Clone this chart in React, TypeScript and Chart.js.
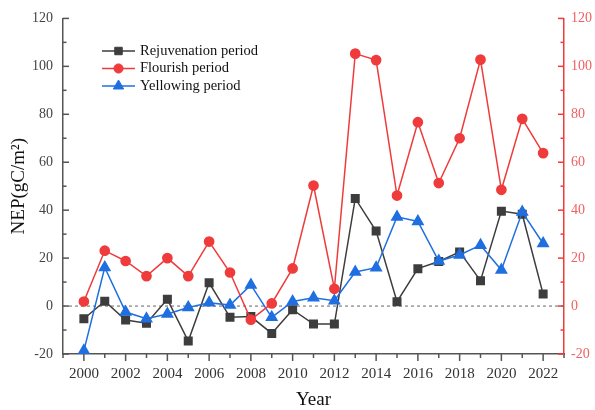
import React, { useEffect, useRef } from 'react';
import { Chart, registerables } from 'chart.js';
import { drawPoint } from 'chart.js/helpers';

Chart.register(...registerables);

const years = [2000, 2001, 2002, 2003, 2004, 2005, 2006, 2007, 2008, 2009, 2010, 2011, 2012, 2013, 2014, 2015, 2016, 2017, 2018, 2019, 2020, 2021, 2022];
const rejuvenation = [-5.3, 2.0, -5.8, -7.2, 2.8, -14.6, 9.7, -4.7, -4.4, -11.4, -1.5, -7.5, -7.5, 44.9, 31.3, 1.8, 15.6, 18.6, 22.6, 10.6, 39.6, 38.3, 5.0];
const flourish = [1.9, 23.1, 18.8, 12.5, 20.0, 12.5, 26.9, 14.0, -5.7, 1.1, 15.7, 50.3, 7.2, 105.3, 102.6, 46.1, 76.7, 51.3, 70.0, 102.8, 48.5, 78.1, 63.8];
const yellowing = [-18.6, 16.1, -2.5, -5.3, -3.3, -0.6, 1.4, 0.4, 8.8, -4.7, 1.9, 3.5, 2.2, 14.2, 16.0, 37.2, 35.3, 18.8, 21.3, 25.4, 15.0, 39.2, 26.1];
const seriesNames = ['Rejuvenation period', 'Flourish period', 'Yellowing period'];

const X_MIN = 1999;
const X_MAX = 2023;
const Y_MIN = -20;
const Y_MAX = 120;

const GREY = '#555555';
const BLACK = '#3d3d3d';
const RED = '#ef3b3b';
const BLUE = '#1f6fe0';
const SERIF = "'Liberation Serif', 'Times New Roman', serif";

const toPoints = (vals: number[]) => vals.map((v, i) => ({ x: years[i], y: v }));

const axisTicks = {
  id: 'axisTicks',
  beforeDatasetsDraw(chart: any) {
    const { ctx, chartArea, scales } = chart;
    const { left, right, bottom } = chartArea;
    ctx.save();
    ctx.lineWidth = 1.5;
    ctx.strokeStyle = GREY;
    for (let v = X_MIN; v <= X_MAX; v++) {
      const px = scales.x.getPixelForValue(v);
      const len = v % 2 === 0 ? 7 : 4;
      ctx.beginPath();
      ctx.moveTo(px, bottom);
      ctx.lineTo(px, bottom + len);
      ctx.stroke();
    }
    for (let v = Y_MIN; v <= Y_MAX; v += 10) {
      const py = scales.y.getPixelForValue(v);
      const len = v % 20 === 0 ? 6 : 3.5;
      ctx.strokeStyle = GREY;
      ctx.beginPath();
      ctx.moveTo(left, py);
      ctx.lineTo(left + len, py);
      ctx.stroke();
      const py1 = scales.y1.getPixelForValue(v);
      ctx.strokeStyle = RED;
      ctx.beginPath();
      ctx.moveTo(right, py1);
      ctx.lineTo(right - len, py1);
      ctx.stroke();
    }
    ctx.restore();
  },
};

const customLegend = {
  id: 'customLegend',
  afterDraw(chart: any) {
    const { ctx } = chart;
    const rows = [51, 68.5, 86];
    ctx.save();
    for (let i = 0; i < 3; i++) {
      const ds = chart.data.datasets[i];
      const y = rows[i];
      ctx.strokeStyle = ds.borderColor;
      ctx.lineWidth = 1.5;
      ctx.beginPath();
      ctx.moveTo(102, y);
      ctx.lineTo(135, y);
      ctx.stroke();
      ctx.fillStyle = ds.pointBackgroundColor;
      ctx.strokeStyle = ds.pointBorderColor;
      ctx.lineWidth = 1;
      drawPoint(ctx, { pointStyle: ds.pointStyle, radius: ds.pointRadius, borderWidth: 1, rotation: 0 }, 118.5, y);
      ctx.fillStyle = '#111';
      ctx.font = `14.5px ${SERIF}`;
      ctx.textBaseline = 'middle';
      ctx.textAlign = 'left';
      ctx.fillText(ds.label, 140, y);
    }
    ctx.restore();
  },
};

export default function App() {
  const ref = useRef<HTMLCanvasElement | null>(null);
  useEffect(() => {
    document.body.style.margin = '0';
    if (!ref.current) return;
    const chart = new Chart(ref.current, {
      type: 'line',
      data: {
        datasets: [
          {
            label: seriesNames[0],
            data: toPoints(rejuvenation),
            borderColor: BLACK,
            backgroundColor: BLACK,
            pointBackgroundColor: BLACK,
            pointBorderColor: BLACK,
            pointStyle: 'rect',
            pointRadius: 5.3,
            borderWidth: 1.5,
            yAxisID: 'y',
            order: 3,
          },
          {
            label: seriesNames[1],
            data: toPoints(flourish),
            borderColor: RED,
            backgroundColor: RED,
            pointBackgroundColor: RED,
            pointBorderColor: RED,
            pointStyle: 'circle',
            pointRadius: 4.6,
            borderWidth: 1.5,
            yAxisID: 'y1',
            order: 1,
          },
          {
            label: seriesNames[2],
            data: toPoints(yellowing),
            borderColor: BLUE,
            backgroundColor: BLUE,
            pointBackgroundColor: BLUE,
            pointBorderColor: BLUE,
            pointStyle: 'triangle',
            pointRadius: 6,
            borderWidth: 1.5,
            yAxisID: 'y',
            order: 2,
          },
          {
            label: 'zero',
            data: [{ x: X_MIN, y: 0 }, { x: X_MAX, y: 0 }],
            borderColor: '#666',
            borderWidth: 1,
            borderDash: [3, 3],
            pointRadius: 0,
            yAxisID: 'y',
            order: 10,
          },
        ] as any,
      },
      options: {
        animation: false,
        responsive: false,
        devicePixelRatio: 1,
        layout: { padding: { top: 18, left: 0, right: 0, bottom: 0 } },
        plugins: { legend: { display: false }, tooltip: { enabled: false } },
        scales: {
          x: {
            type: 'linear',
            min: X_MIN,
            max: X_MAX,
            grid: { display: false, drawTicks: false, tickLength: 0 },
            border: { display: true, color: GREY, width: 1.5 },
            ticks: {
              stepSize: 1,
              autoSkip: false,
              maxRotation: 0,
              padding: 11,
              color: '#333',
              font: { family: SERIF, size: 15 },
              callback: (v: any) => (Number(v) % 2 === 0 ? String(v) : ''),
            },
            title: {
              display: true,
              text: 'Year',
              color: '#111',
              font: { family: SERIF, size: 19, lineHeight: 1 },
              padding: { top: 0, bottom: 0.5 },
            },
            afterFit: (s: any) => { s.height = 56; },
          },
          y: {
            type: 'linear',
            position: 'left',
            min: Y_MIN,
            max: Y_MAX,
            grid: { display: false, drawTicks: false, tickLength: 0 },
            border: { display: true, color: GREY, width: 1.5 },
            ticks: {
              stepSize: 20,
              padding: 10,
              color: '#444',
              font: { family: SERIF, size: 14 },
            },
            title: {
              display: true,
              text: 'NEP(gC/m²)',
              color: '#111',
              font: { family: SERIF, size: 19, lineHeight: 1 },
              padding: { top: 10, bottom: 0 },
            },
            afterFit: (s: any) => { s.width = 63; },
          },
          y1: {
            type: 'linear',
            position: 'right',
            min: Y_MIN,
            max: Y_MAX,
            grid: { display: false, drawTicks: false, tickLength: 0 },
            border: { display: true, color: RED, width: 1.5 },
            ticks: {
              stepSize: 20,
              padding: 7,
              color: '#f06060',
              font: { family: SERIF, size: 14 },
            },
            afterFit: (s: any) => { s.width = 31; },
          },
        },
      } as any,
      plugins: [axisTicks, customLegend],
    });
    return () => chart.destroy();
  }, []);
  return (
    <div style={{ width: 595, height: 410 }}>
      <canvas ref={ref} width={595} height={410} style={{ display: 'block' }} />
    </div>
  );
}
